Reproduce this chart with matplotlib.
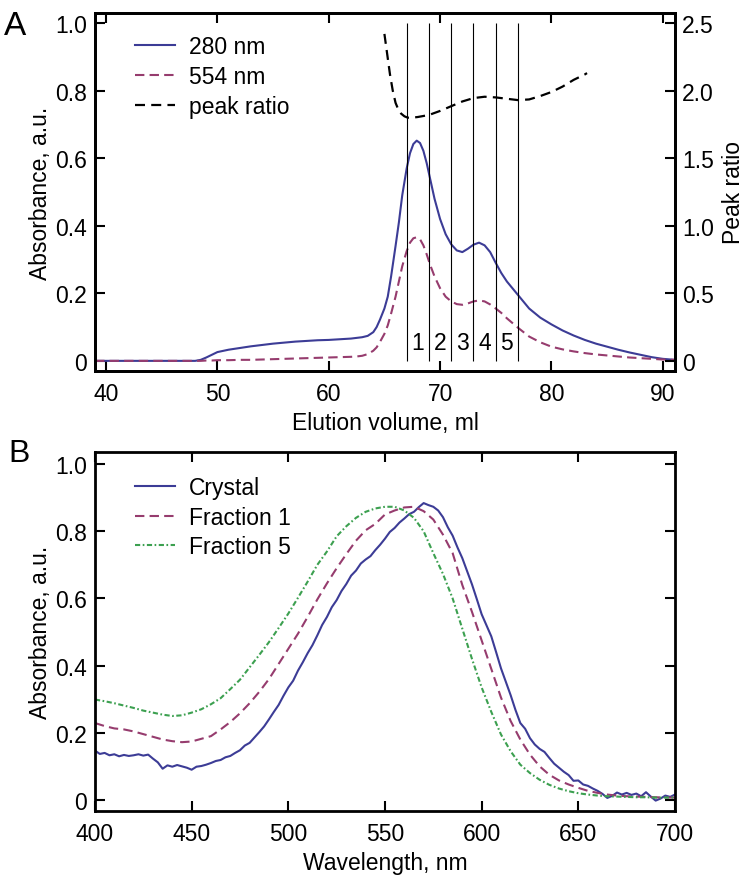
import numpy as np
import matplotlib
matplotlib.use("Agg")
import matplotlib.pyplot as plt

plt.rcParams['font.family'] = ['Liberation Sans', 'DejaVu Sans']
plt.rcParams['font.size'] = 16.5

# Panel A: size exclusion chromatogram
vol = [39, 48, 48.5, 49, 49.5, 50, 51, 52, 53, 54, 55, 56, 57, 58, 59, 60, 61, 62,
       62.5, 63, 63.5, 64, 64.3, 64.6, 65, 65.3, 65.6, 66, 66.3, 66.6, 67, 67.3,
       67.6, 67.9, 68.2, 68.5, 68.8, 69.1, 69.5, 70, 70.5, 71, 71.5, 72, 72.5, 73,
       73.5, 74, 74.5, 75, 75.5, 76, 77, 78, 79, 80, 81, 82, 83, 84, 85, 86, 87,
       88, 89, 90, 91.1]
abs_280 = [0, 0, 0.003, 0.01, 0.018, 0.026, 0.033, 0.038, 0.043, 0.047, 0.051,
           0.054, 0.057, 0.059, 0.061, 0.062, 0.064, 0.066, 0.068, 0.070, 0.074,
           0.085, 0.100, 0.122, 0.155, 0.19, 0.25, 0.34, 0.41, 0.49, 0.57, 0.615,
           0.642, 0.652, 0.645, 0.622, 0.585, 0.54, 0.48, 0.42, 0.375, 0.345,
           0.327, 0.322, 0.332, 0.344, 0.35, 0.342, 0.322, 0.29, 0.26, 0.235,
           0.195, 0.155, 0.128, 0.108, 0.09, 0.075, 0.062, 0.051, 0.042, 0.033,
           0.025, 0.018, 0.011, 0.006, 0.003]
abs_554 = [0, 0, 0, 0.001, 0.001, 0.002, 0.002, 0.003, 0.003, 0.004, 0.005, 0.006,
           0.007, 0.008, 0.009, 0.010, 0.011, 0.012, 0.013, 0.015, 0.020, 0.030,
           0.040, 0.056, 0.08, 0.105, 0.14, 0.19, 0.235, 0.28, 0.325, 0.350,
           0.363, 0.366, 0.360, 0.342, 0.315, 0.285, 0.25, 0.215, 0.19, 0.176,
           0.168, 0.166, 0.170, 0.176, 0.179, 0.176, 0.167, 0.155, 0.142, 0.126,
           0.098, 0.072, 0.055, 0.042, 0.034, 0.028, 0.023, 0.019, 0.016, 0.013,
           0.010, 0.008, 0.006, 0.004, 0.003]

ratio_vol = [65.0, 65.25, 65.5, 65.75, 66.0, 66.25, 66.5, 66.8, 67.1, 67.5, 68, 69,
             70, 71, 72, 73, 74, 75, 76, 77, 78, 79, 80, 81, 82, 83, 83.2]
ratio_val = [2.42, 2.27, 2.12, 2.0, 1.91, 1.86, 1.83, 1.81, 1.80, 1.80, 1.805, 1.82,
             1.85, 1.885, 1.92, 1.945, 1.955, 1.95, 1.94, 1.93, 1.935, 1.96, 1.99,
             2.03, 2.08, 2.12, 2.13]

fraction_edges = [67, 69, 71, 73, 75, 77]
fraction_names = ['1', '2', '3', '4', '5']

# Panel B: absorption spectra
wl_fine = np.arange(400, 700.1, 2.5)
crystal = [0.147, 0.137, 0.140, 0.133, 0.136, 0.130, 0.134, 0.131, 0.133, 0.136,
           0.132, 0.135, 0.123, 0.112, 0.093, 0.103, 0.099, 0.104, 0.100, 0.096,
           0.090, 0.099, 0.101, 0.105, 0.110, 0.116, 0.119, 0.127, 0.131, 0.140,
           0.148, 0.162, 0.170, 0.186, 0.202, 0.219, 0.240, 0.262, 0.283, 0.310,
           0.335, 0.355, 0.385, 0.410, 0.437, 0.461, 0.490, 0.521, 0.545, 0.574,
           0.595, 0.622, 0.643, 0.668, 0.683, 0.704, 0.716, 0.726, 0.744, 0.760,
           0.778, 0.798, 0.810, 0.826, 0.838, 0.851, 0.858, 0.872, 0.884, 0.878,
           0.873, 0.862, 0.842, 0.812, 0.787, 0.752, 0.720, 0.681, 0.642, 0.598,
           0.553, 0.520, 0.487, 0.440, 0.392, 0.352, 0.312, 0.268, 0.229, 0.212,
           0.184, 0.165, 0.152, 0.143, 0.125, 0.108, 0.096, 0.084, 0.074, 0.057,
           0.058, 0.046, 0.042, 0.034, 0.027, 0.018, 0.006, 0.012, 0.022, 0.016,
           0.021, 0.015, 0.019, 0.011, 0.023, 0.010, -0.002, 0.004, 0.013, 0.009,
           0.016]

wl = np.arange(400, 700.1, 5)
fraction_1 = [0.229, 0.220, 0.213, 0.210, 0.204, 0.196, 0.188, 0.180, 0.175, 0.172,
              0.174, 0.182, 0.190, 0.210, 0.232, 0.258, 0.288, 0.322, 0.360, 0.405,
              0.450, 0.495, 0.545, 0.597, 0.645, 0.690, 0.732, 0.772, 0.803, 0.822,
              0.850, 0.862, 0.871, 0.873, 0.860, 0.835, 0.790, 0.735, 0.640, 0.560,
              0.475, 0.390, 0.305, 0.235, 0.180, 0.135, 0.100, 0.075, 0.058, 0.046,
              0.036, 0.027, 0.021, 0.016, 0.013, 0.011, 0.010, 0.009, 0.008, 0.007,
              0.007]
fraction_5 = [0.299, 0.294, 0.288, 0.281, 0.274, 0.266, 0.260, 0.254, 0.250, 0.252,
              0.260, 0.270, 0.285, 0.303, 0.330, 0.358, 0.395, 0.432, 0.470, 0.512,
              0.555, 0.602, 0.650, 0.700, 0.740, 0.785, 0.815, 0.840, 0.858, 0.868,
              0.873, 0.873, 0.862, 0.840, 0.800, 0.735, 0.673, 0.600, 0.510, 0.420,
              0.335, 0.262, 0.195, 0.145, 0.105, 0.080, 0.060, 0.045, 0.034, 0.026,
              0.020, 0.016, 0.013, 0.011, 0.010, 0.009, 0.008, 0.008, 0.007, 0.007,
              0.007]

BLUE = '#3c3c96'
PURPLE = '#963c6e'
GREEN = '#3ca050'
SPINE_W = 2.0


def style_axes(ax):
    for sp in ax.spines.values():
        sp.set_linewidth(SPINE_W)
    ax.tick_params(direction='in', length=7, width=1.5, pad=6)


fig = plt.figure(figsize=(7.46, 8.79), dpi=100)
ax_a = fig.add_axes([0.1273, 0.5768, 0.7775, 0.4073])
ax_r = ax_a.twinx()
ax_b = fig.add_axes([0.1273, 0.0762, 0.7775, 0.4084])

# --- panel A
l280, = ax_a.plot(vol, abs_280, color=BLUE, lw=1.5, label='280 nm')
l554, = ax_a.plot(vol, abs_554, color=PURPLE, lw=1.5, dashes=(4.5, 2.5), label='554 nm')
lrat, = ax_r.plot(ratio_vol, ratio_val, color='black', lw=1.6, dashes=(4.5, 2.8),
                  label='peak ratio')
ax_a.vlines(fraction_edges, 0, 1.0, color='black', lw=0.8)
for i, name in enumerate(fraction_names):
    mid = (fraction_edges[i] + fraction_edges[i + 1]) / 2
    ax_a.text(mid, 0.053, name, ha='center', va='center')

ax_a.set_xlim(39, 91.1)
ax_a.set_ylim(-0.03, 1.03)
ax_r.set_ylim(-0.075, 2.575)
ax_a.set_xticks([40, 50, 60, 70, 80, 90])
ax_a.set_yticks([0, 0.2, 0.4, 0.6, 0.8, 1.0], ['0', '0.2', '0.4', '0.6', '0.8', '1.0'])
ax_r.set_yticks([0, 0.5, 1.0, 1.5, 2.0, 2.5], ['0', '0.5', '1.0', '1.5', '2.0', '2.5'])
style_axes(ax_a)
style_axes(ax_r)
ax_a.tick_params(axis='x', top=True, pad=8)
ax_a.tick_params(axis='y', right=False)
ax_r.tick_params(axis='y', pad=5)
ax_a.set_xlabel('Elution volume, ml', labelpad=4)
ax_a.set_ylabel('Absorbance, a.u.', labelpad=2)
ax_r.set_ylabel('Peak ratio', labelpad=6)
ax_a.legend(handles=[l280, l554, lrat], loc='upper left', bbox_to_anchor=(0.069, 0.938),
            frameon=False, borderpad=0, borderaxespad=0, handlelength=1.75,
            handletextpad=0.6, labelspacing=0.3)

# --- panel B
lc, = ax_b.plot(wl_fine, crystal, color=BLUE, lw=1.5, label='Crystal')
lf1, = ax_b.plot(wl, fraction_1, color=PURPLE, lw=1.5, dashes=(4.5, 2.5), label='Fraction 1')
lf5, = ax_b.plot(wl, fraction_5, color=GREEN, lw=1.5, dashes=(2.5, 1.2, 0.8, 1.2),
                 label='Fraction 5')
ax_b.set_xlim(400, 700)
ax_b.set_ylim(-0.033, 1.036)
ax_b.set_xticks([400, 450, 500, 550, 600, 650, 700])
ax_b.set_yticks([0, 0.2, 0.4, 0.6, 0.8, 1.0], ['0', '0.2', '0.4', '0.6', '0.8', '1.0'])
style_axes(ax_b)
ax_b.tick_params(top=True, right=True, labelright=False, labeltop=False)
ax_b.tick_params(axis='x', pad=8)
ax_b.set_xlabel('Wavelength, nm', labelpad=4)
ax_b.set_ylabel('Absorbance, a.u.', labelpad=2)
ax_b.legend(handles=[lc, lf1, lf5], loc='upper left', bbox_to_anchor=(0.069, 0.934),
            frameon=False, borderpad=0, borderaxespad=0, handlelength=1.75,
            handletextpad=0.6, labelspacing=0.3)

fig.text(0.005, 0.988, 'A', fontsize=24, va='top', ha='left')
fig.text(0.011, 0.501, 'B', fontsize=23, va='top', ha='left')

fig.savefig('out.png', dpi=100)
